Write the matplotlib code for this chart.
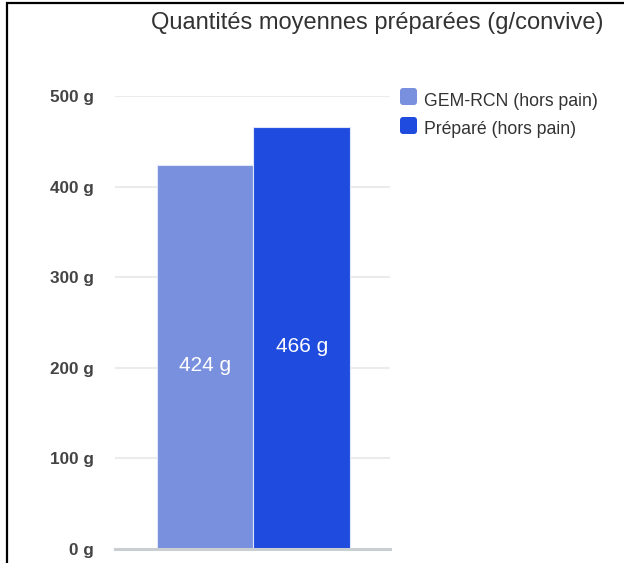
import numpy as np
import matplotlib
matplotlib.use('Agg')
import matplotlib.pyplot as plt
from matplotlib.patches import FancyBboxPatch, Rectangle

plt.rcParams['font.family'] = ['Liberation Sans', 'DejaVu Sans']

series = ['GEM-RCN (hors pain)', 'Préparé (hors pain)']
values = [424, 466]
colors = ['#7990de', '#1f4bdf']
yticks = [0, 100, 200, 300, 400, 500]
title = 'Quantités moyennes préparées (g/convive)'

fig = plt.figure(figsize=(6.24, 5.63), dpi=100)
ax = fig.add_axes([0.1843, 0.0249, 0.4407, 0.8046])

x = np.arange(len(values))
bars = ax.bar(x, values, width=1.0, color=colors, edgecolor='#dfe6fa',
              linewidth=0.8, zorder=3)
for xi, v in zip(x, values):
    ax.text(xi, v / 2 - 10, f'{v} g', ha='center', va='center',
            color='white', fontsize=15, zorder=4)

ax.set_xlim(-0.935, 1.915)
ax.set_ylim(0, 500)
ax.set_yticks(yticks)
ax.set_yticklabels([f'{t} g' for t in yticks], fontsize=12.3,
                   fontweight='bold', color='#444444')
ax.tick_params(axis='y', length=0, pad=15)
ax.set_xticks([])
for s in ax.spines.values():
    s.set_visible(False)
for t in yticks[1:]:
    ax.axhline(t, color='#ebebeb', linewidth=1.5, zorder=1)
ax.axhline(0, color='#c9ced2', linewidth=2.2, zorder=4, clip_on=False)

# legend drawn by hand: rounded swatches with text
for i, (name, c) in enumerate(zip(series, colors)):
    ytop = 88 + i * 29
    fig.patches.append(FancyBboxPatch((400, 563 - ytop - 17), 17, 17,
                                      boxstyle='round,pad=0,rounding_size=3',
                                      transform=None, facecolor=c,
                                      edgecolor='none'))
    fig.text(424 / 624, 1 - (ytop + 13) / 563, name, fontsize=12.7,
             color='#333333', va='center', ha='left')

fig.text(377 / 624, 1 - 23 / 563, title, fontsize=17, color='#333333',
         ha='center', va='center')

# outer frame on top and left
fig.patches.append(Rectangle((7 / 624, -0.1), 1.2, 1.1 - 3 / 563 + 0.0,
                             transform=fig.transFigure, fill=False,
                             edgecolor='black', linewidth=1.6))

fig.savefig('out.png', dpi=100)
